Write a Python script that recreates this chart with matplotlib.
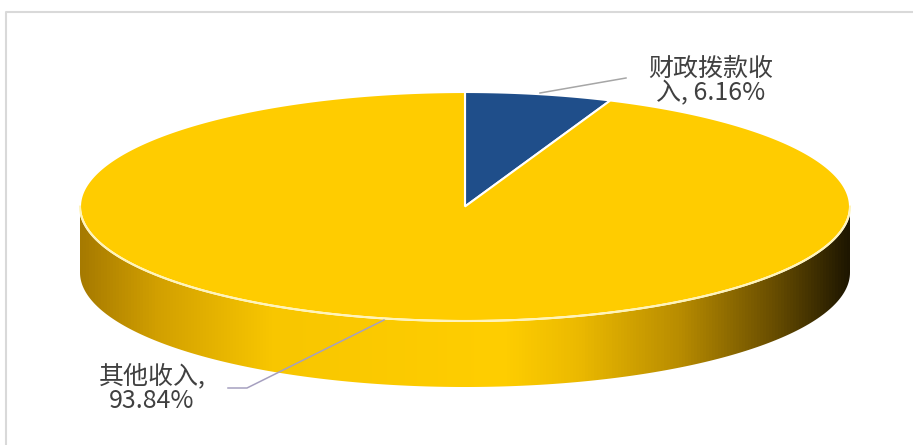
import numpy as np
import matplotlib.pyplot as plt
from matplotlib.colors import LinearSegmentedColormap
from matplotlib.patches import Polygon

plt.rcParams['font.family'] = ['Noto Sans CJK SC', 'DejaVu Sans']

categories = ['财政拨款收入', '其他收入']
values = [6.16, 93.84]
colors = ['#1f4e8a', '#ffcc00']

# pie geometry in pixel units (y grows downward)
cx, cy = 465, 206.5
a, b = 385, 114.5
depth = 66

fig = plt.figure(figsize=(9.13, 4.45), dpi=100)
ax = fig.add_axes([0, 0, 1, 1])
ax.set_xlim(0, 913)
ax.set_ylim(445, 0)
ax.axis('off')


def ell(t, dy=0.0):
    t = np.radians(t)
    return cx + a * np.cos(t), cy + dy - b * np.sin(t)


# front side wall with horizontal shading
t_front = np.linspace(180, 360, 200)
x1, y1 = ell(t_front)
x2, y2 = ell(t_front[::-1], depth)
side = Polygon(np.column_stack([np.r_[x1, x2], np.r_[y1, y2]]), closed=True,
               facecolor='none', edgecolor='none')
ax.add_patch(side)
side_cmap = LinearSegmentedColormap.from_list('side', [
    (0.0, '#a67a00'), (0.1, '#d2a000'), (0.25, '#f8c600'), (0.55, '#ffce00'),
    (0.65, '#ebb900'), (0.78, '#b88c00'), (0.9, '#6a4f00'), (1.0, '#1e1600')])
grad = ax.imshow(np.linspace(0, 1, 256)[None, :], cmap=side_cmap, aspect='auto',
                 extent=[cx - a, cx + a, cy + b + depth, cy - 10], zorder=1)
grad.set_clip_path(side)

# top face wedges, clockwise from 12 o'clock
total = sum(values)
start = 90.0
for v, c in zip(values, colors):
    sweep = 360.0 * v / total
    t = np.linspace(start, start - sweep, max(int(sweep * 2), 10))
    x, y = ell(t)
    wedge = Polygon(np.column_stack([np.r_[cx, x], np.r_[cy, y]]), closed=True,
                    facecolor=c, edgecolor='white', linewidth=1.5, zorder=2)
    ax.add_patch(wedge)
    start -= sweep

# light rim along the front edge
xr, yr = ell(t_front)
ax.plot(xr, yr, color='#fff4b8', lw=1.4, zorder=3)

# data labels with leader lines
texts = [f'{c}, {v:.2f}%' for c, v in zip(categories, values)]
texts = [s[:5] + '\n' + s[5:].strip() for s in texts]
label_pos = [(711, 81), (152, 389)]
leaders = [[(540, 93), (626, 78)], [(384, 320), (247, 388), (228, 388)]]
leader_colors = ['#a6a6a6', '#a6a0c0']
for s, (lx, ly), pts, lc in zip(texts, label_pos, leaders, leader_colors):
    px, py = zip(*pts)
    ax.plot(px, py, color=lc, lw=1.1, zorder=4)
    ax.text(lx, ly, s, ha='center', va='center', fontsize=18, color='#404040',
            linespacing=0.95, zorder=5)

# chart area frame
ax.plot([6, 6, 913], [445, 12, 12], color='#d9d9d9', lw=1.5, zorder=0)

fig.savefig('out.png', dpi=100)
